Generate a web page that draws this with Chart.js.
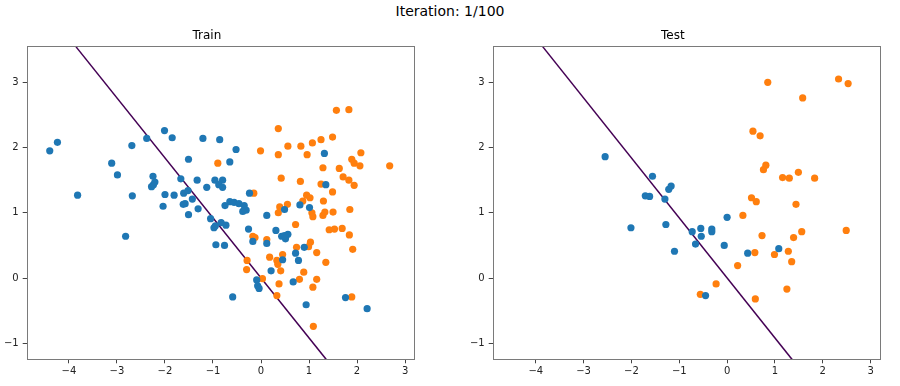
<!DOCTYPE html>
<html>
<head>
<meta charset="utf-8">
<script src="https://cdn.jsdelivr.net/npm/chart.js@4/dist/chart.umd.min.js"></script>
<style>
  body { margin: 0; background: #fff; font-family: "DejaVu Sans", sans-serif; }
  #wrap { position: relative; width: 900px; height: 386px; overflow: hidden; }
  #suptitle { position: absolute; top: 3px; left: 0; width: 900px; text-align: center; font-size: 14px; color: #000; }
  canvas { position: absolute; }
</style>
</head>
<body>
<div id="wrap">
  <div id="suptitle">Iteration: 1/100</div>
  <canvas id="trainChart"></canvas>
  <canvas id="testChart"></canvas>
</div>
<script>
// tick labels
const xTicks = [-4, -3, -2, -1, 0, 1, 2, 3];
const yTicks = [-1, 0, 1, 2, 3];

// decision boundary (same for both panels)
const boundaryX = [-3.86, 1.36];
const boundaryY = [3.55, -1.25];

// train, class 0 (blue)
const trainBlueX = [-4.40, -4.24, -3.82, -3.11, -2.99, -2.69, -2.68, -2.82, -2.38, -2.01, -1.85, -1.51, -1.21, -0.86, -0.52, -0.65,
  -2.25, -2.28, -2.24, -2.21, -2.00, -2.04, -1.81, -1.67, -1.61, -1.52, -1.33, -1.13, -0.96, -0.80, -0.88, -0.80,
  -1.43, -1.58, -1.62, -1.31, -1.51, -0.24, -0.75, -0.65, -0.56, -0.46, -0.35, -0.31, -0.38, -1.05, -0.98, -0.95,
  -0.83, -0.73, -0.94, -0.76, -0.59, -0.26, -0.17, 0.12, 0.12, 0.49, 0.31, 0.43, 0.51, 0.56, 0.49, 0.45, 0.21,
  -0.09, -0.07, -0.04, 0.72, 0.78, 0.67, 0.90, 0.94, 1.76, 2.21, 1.32, 1.35, 0.81, 1.01];
const trainBlueY = [1.95, 2.08, 1.27, 1.76, 1.58, 2.03, 1.26, 0.64, 2.14, 2.26, 2.15, 1.82, 2.14, 2.12, 1.97, 1.78,
  1.56, 1.40, 1.43, 1.47, 1.28, 1.10, 1.27, 1.52, 1.30, 1.34, 1.50, 1.39, 1.50, 1.50, 1.43, 1.39,
  1.21, 1.14, 1.13, 1.06, 0.97, 1.30, 1.11, 1.17, 1.16, 1.14, 1.11, 1.04, 1.02, 0.91, 0.77, 0.80,
  0.85, 0.81, 0.51, 0.50, -0.29, 0.75, 0.56, 0.53, 0.96, 1.05, 0.73, 0.64, 0.60, 0.67, 0.65, 0.28, 0.11,
  -0.03, -0.12, -0.16, 0.38, 0.27, -0.06, 0.47, -0.41, -0.30, -0.47, 1.91, 1.43, 1.12, 1.08];

// train, class 1 (orange)
const trainOrangeX = [-0.90, -0.01, -0.15, -0.17, -0.125, 0.12, -0.29, -0.30, 0.03, 0.18, 0.36, 0.72, 0.45, 0.33, 0.35,
  0.41, 0.375, 0.33, 0.80, 0.89, 0.74, 0.99, 1.03, 1.16, 1.35, 1.16, 1.08, 1.09, 1.89, 1.06, 1.08, 1.29, 1.33,
  1.50, 1.85, 1.42, 1.53, 1.69, 1.84, 1.91, 1.57, 1.83, 0.36, 0.56, 0.83, 1.07, 1.25, 1.49, 0.36, 0.96, 2.08,
  1.89, 1.94, 2.06, 2.68, 1.29, 1.63, 1.71, 1.83, 1.94, 0.42, 0.82, 1.25, 1.49, 0.95, 1.02, 0.87, 1.30, 0.55, 0.39];
const trainOrangeY = [1.76, 1.95, 1.30, 0.64, 0.62, 0.59, 0.27, 0.13, -0.01, 0.32, 1.00, 0.82, 0.36, 0.27, 0.21,
  0.11, -0.09, -0.27, -0.02, 0.09, 0.47, 0.48, 0.55, 0.39, 0.24, -0.02, -0.14, -0.74, -0.29, 1.00, 0.94, 0.96, 1.01,
  1.01, 1.05, 0.74, 0.75, 0.76, 0.66, 0.44, 2.57, 2.58, 2.29, 2.02, 2.02, 2.07, 2.12, 2.16, 1.89, 1.89, 1.92,
  1.82, 1.76, 1.72, 1.72, 1.69, 1.68, 1.55, 1.50, 1.42, 1.53, 1.48, 1.44, 1.32, 1.27, 1.23, 1.18, 1.18, 1.13, 1.09];

// test, class 0 (blue)
const testBlueX = [-2.55, -1.56, -1.22, -1.17, -1.71, -1.62, -1.30, -2.01, -1.28, -1.10, 0.00, -0.73, -0.55, -0.32,
  -0.32, -0.54, -0.66, -0.06, 0.43, 1.08, -0.45];
const testBlueY = [1.86, 1.56, 1.36, 1.41, 1.26, 1.25, 1.21, 0.77, 0.82, 0.41, 0.93, 0.71, 0.76, 0.75,
  0.71, 0.64, 0.52, 0.50, 0.38, 0.45, -0.27];

// test, class 1 (orange)
const testOrangeX = [0.85, 2.33, 2.53, 1.58, 0.54, 0.69, 0.81, 0.76, 1.16, 1.30, 1.49, 1.83, 0.51, 0.61, 1.44, 0.33,
  0.73, 1.39, 1.56, 2.49, 0.58, 0.99, 1.28, 1.35, 0.22, -0.23, -0.56, 0.59, 1.25];
const testOrangeY = [3.00, 3.05, 2.98, 2.76, 2.25, 2.18, 1.73, 1.66, 1.54, 1.53, 1.62, 1.53, 1.23, 1.17, 1.13, 0.96,
  0.65, 0.62, 0.71, 0.73, 0.39, 0.36, 0.41, 0.25, 0.19, -0.09, -0.25, -0.32, -0.17];

const BLUE = '#1f77b4';
const ORANGE = '#ff7f0e';
const LINE = '#440154';

const toPoints = (xs, ys) => xs.map((x, i) => ({ x, y: ys[i] }));
const fmt = v => (v < 0 ? '\u2212' + Math.abs(v) : String(v));

// draws the full axes box like matplotlib spines
const boxPlugin = {
  id: 'box',
  afterDraw(chart) {
    const { ctx, chartArea: a } = chart;
    ctx.save();
    ctx.strokeStyle = '#7a7a7a';
    ctx.lineWidth = 1;
    ctx.strokeRect(Math.round(a.left) + 0.5, Math.round(a.top) + 0.5,
      Math.round(a.right - a.left), Math.round(a.bottom - a.top));
    ctx.restore();
  }
};

function makeChart(id, left, title, xMin, xMax, blueX, blueY, orangeX, orangeY) {
  const el = document.getElementById(id);
  const W = 420, H = 364;
  el.width = W; el.height = H;
  el.style.width = W + 'px'; el.style.height = H + 'px';
  el.style.left = left + 'px';
  el.style.top = '22px';

  return new Chart(el, {
    type: 'scatter',
    data: {
      datasets: [
        {
          data: toPoints(blueX, blueY),
          backgroundColor: BLUE, borderWidth: 0, pointRadius: 3.6, pointHoverRadius: 3.6
        },
        {
          data: toPoints(orangeX, orangeY),
          backgroundColor: ORANGE, borderWidth: 0, pointRadius: 3.6, pointHoverRadius: 3.6
        },
        {
          type: 'line',
          data: toPoints(boundaryX, boundaryY),
          borderColor: LINE, borderWidth: 1.5, pointRadius: 0, fill: false, tension: 0
        }
      ]
    },
    options: {
      responsive: false,
      animation: false,
      events: [],
      layout: { padding: { left: 0, top: 0, bottom: 0, right: 6.3 } },
      plugins: {
        legend: { display: false },
        tooltip: { enabled: false },
        title: {
          display: true, text: title, color: '#000',
          font: { family: 'DejaVu Sans', size: 12, weight: 'normal' },
          padding: { top: 7, bottom: 3 }
        }
      },
      scales: {
        x: {
          type: 'linear', min: xMin, max: xMax,
          afterBuildTicks: s => { s.ticks = xTicks.map(v => ({ value: v })); },
          afterFit: s => { s.height = 26.7; },
          grid: { display: true, drawOnChartArea: false, drawTicks: true, tickLength: 4, color: '#444' },
          border: { display: false },
          ticks: {
            color: '#222', padding: 2, maxRotation: 0,
            font: { family: 'DejaVu Sans', size: 10 },
            callback: v => fmt(v)
          }
        },
        y: {
          type: 'linear', min: -1.246, max: 3.55,
          afterBuildTicks: s => { s.ticks = yTicks.map(v => ({ value: v })); },
          afterFit: s => { s.width = 26.7; },
          grid: { display: true, drawOnChartArea: false, drawTicks: true, tickLength: 4, color: '#444' },
          border: { display: false },
          ticks: {
            color: '#222', padding: 4,
            font: { family: 'DejaVu Sans', size: 10 },
            callback: v => fmt(v)
          }
        }
      }
    },
    plugins: [boxPlugin]
  });
}

makeChart('trainChart', 0, 'Train', -4.88, 3.18, trainBlueX, trainBlueY, trainOrangeX, trainOrangeY);
makeChart('testChart', 465.6, 'Test', -4.90, 3.19, testBlueX, testBlueY, testOrangeX, testOrangeY);
</script>
</body>
</html>
